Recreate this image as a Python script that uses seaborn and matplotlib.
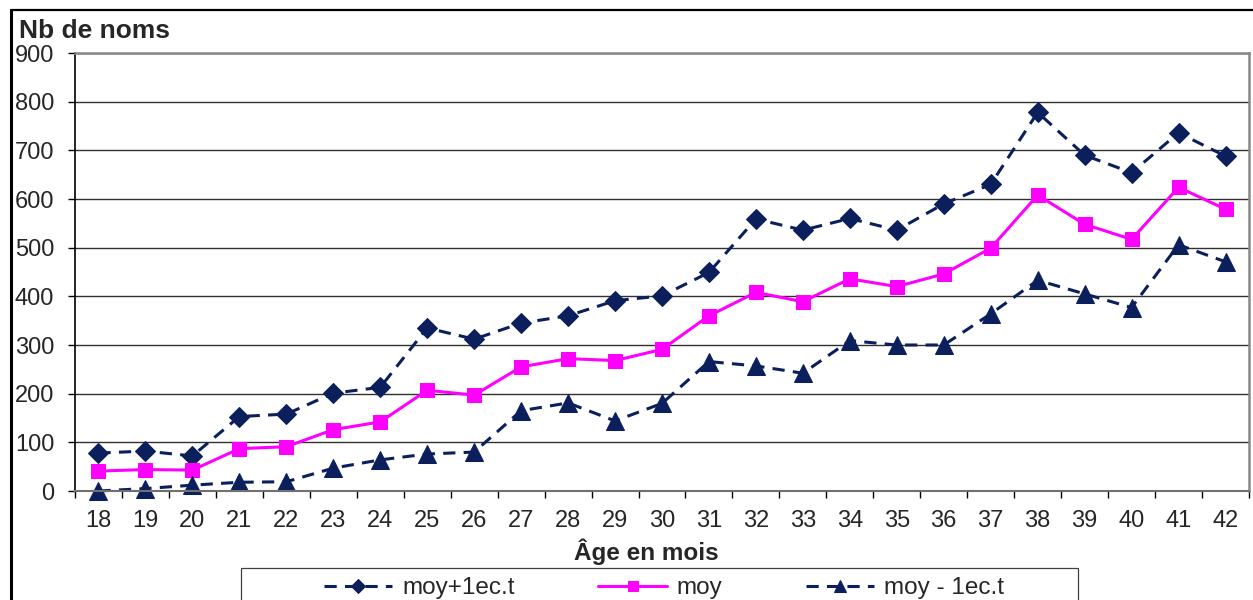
import pandas as pd
import numpy as np
import seaborn as sns
import matplotlib.pyplot as plt
from matplotlib.lines import Line2D
from matplotlib.patches import Rectangle
from matplotlib.ticker import MultipleLocator

ages = list(range(18, 43))
moy_plus = [78, 82, 72, 153, 158, 201, 213, 335, 312, 345, 360, 391, 401, 449, 559,
            536, 560, 536, 590, 630, 778, 690, 654, 736, 688]
moy = [41, 44, 43, 87, 91, 126, 142, 207, 197, 255, 272, 268, 291, 360, 408,
       389, 436, 420, 446, 499, 608, 548, 517, 624, 579]
moy_minus = [0, 5, 12, 18, 19, 47, 64, 76, 80, 165, 181, 144, 180, 266, 257,
             242, 309, 300, 300, 364, 433, 405, 377, 506, 471]
labels = ["moy+1ec.t", "moy", "moy - 1ec.t"]

sns.set_style("white")
plt.rcParams['font.family'] = ['Liberation Sans', 'DejaVu Sans']

navy = "#0B1F5C"
pink = "#FF00FF"

df = pd.DataFrame({"age": ages, "plus": moy_plus, "moy": moy, "minus": moy_minus})

f = plt.figure(figsize=(12.53, 6.0), dpi=100)
ax = f.add_axes([75/1253, 1 - 491/600, 1174/1253, 438/600])

sns.lineplot(data=df, x="age", y="plus", ax=ax, color=navy, lw=2.2, marker="D",
             markersize=10.5, markeredgecolor=navy, label=labels[0])
sns.lineplot(data=df, x="age", y="moy", ax=ax, color=pink, lw=2.2, marker="s",
             markersize=10.5, markeredgecolor=pink, label=labels[1])
sns.lineplot(data=df, x="age", y="minus", ax=ax, color=navy, lw=2.2, marker="^",
             markersize=12.5, markeredgecolor=navy, label=labels[2])
for i in (0, 2):
    ax.lines[i].set_dashes((4, 2.7))
    ax.lines[i].set_clip_on(False)
ax.lines[1].set_clip_on(False)

ax.set_xlim(17.5, 42.5)
ax.set_ylim(0, 900)
ax.yaxis.set_major_locator(MultipleLocator(100))
ax.set_xticks(ages)
ax.xaxis.set_minor_locator(MultipleLocator(1, offset=0.5))
ax.grid(axis="y", color="#303030", lw=1)
ax.tick_params(axis="x", which="major", length=0, pad=13.5, labelsize=17)
ax.tick_params(axis="x", which="minor", bottom=True, length=5, width=1, color="black")
ax.tick_params(axis="y", left=True, length=5, width=1, color="black", pad=10, labelsize=17)

for s in ["top", "right"]:
    ax.spines[s].set_visible(True)
    ax.spines[s].set_color("#888888")
    ax.spines[s].set_linewidth(1.8)
ax.spines["left"].set_color("black")
ax.spines["left"].set_linewidth(1.2)
ax.spines["bottom"].set_color("#707070")
ax.spines["bottom"].set_linewidth(1.5)

ax.set_xlabel("Âge en mois", fontsize=17.5, fontweight="bold")
ax.xaxis.set_label_coords(571/1174, -61/438)
ax.xaxis.label.set_va("center")
ax.set_ylabel("")
f.text(19/1253, 1 - 31/600, "Nb de noms", fontsize=19, fontweight="bold", va="center", ha="left")

leg = ax.legend(loc="center", bbox_to_anchor=(664/1253, 1 - 588/600),
                bbox_transform=f.transFigure, ncol=3, fontsize=17.5, frameon=False,
                handlelength=2.8, handletextpad=0.4, columnspacing=3.45,
                borderpad=0, markerscale=0.7)
# legend box (runs past the bottom edge like the original)
f.add_artist(Rectangle((241/1253, -0.05), (1078 - 241)/1253, 0.05 + 32/600,
                       transform=f.transFigure, fill=False, edgecolor="#404040", lw=0.9))

# figure border
f.add_artist(Line2D([11/1253, 11/1253], [0, 1 - 10/600], color="black", lw=2.2))
f.add_artist(Line2D([11/1253, 1], [1 - 10/600, 1 - 10/600], color="black", lw=1.6))

f.savefig("out.png", dpi=100)
